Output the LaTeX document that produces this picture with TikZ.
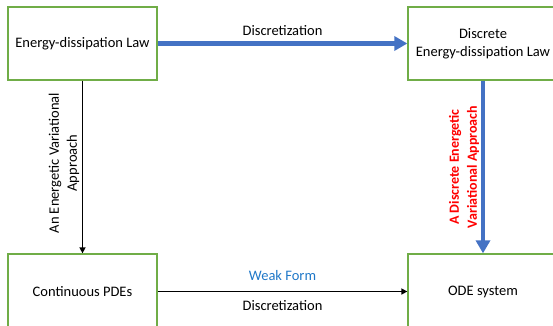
\documentclass[tikz,border=0pt]{standalone}
\usepackage{fontspec}
\setmainfont{Carlito}
\usetikzlibrary{arrows.meta}
\definecolor{boxgreen}{HTML}{70AD47}
\definecolor{arrblue}{HTML}{4472C4}
\definecolor{weakblue}{HTML}{1F78C8}
\begin{document}
\begin{tikzpicture}[x=1pt,y=-1pt,
  font=\fontsize{14.5}{18}\selectfont,
  boxnode/.style={draw=boxgreen,line width=1.3pt,minimum width=149pt,minimum height=73pt,align=center,inner sep=0pt},
  bigarrow/.style={draw=arrblue,line width=4.5pt,-{Triangle[width=14pt,length=13pt]}},
  thinarrow/.style={draw=black,line width=1.5pt,-{Triangle[width=6pt,length=6pt]}},
  sidelabel/.style={rotate=90,align=center}]
\clip (0,0) rectangle (553,325);
\node[boxnode] (b1) at (82.5,43.5) {Energy-dissipation Law};
\node[boxnode,minimum width=150pt] (b2) at (483,43.5) {Discrete\\Energy-dissipation Law};
\node[boxnode,minimum height=75pt] (b3) at (82.5,291.5) {Continuous PDEs};
\node[boxnode,minimum width=150pt,minimum height=75pt] (b4) at (483,291.5) {ODE system};
\draw[bigarrow] (b1.east) -- node[above=2pt] (l1) {Discretization} (b2.west);
\draw[thinarrow] (b1.south) -- (b3.north);
\draw[bigarrow] (b2.south) -- (b4.north);
\draw[thinarrow] (b3.east) -- node[above=7pt,text=weakblue] (l2) {Weak Form} node[below=5pt] (l3) {Discretization} (b4.west);
\node[sidelabel] (l4) at (64,163) {An Energetic Variational\\Approach};
\node[sidelabel,text=red,font=\fontsize{14}{18}\selectfont\bfseries] (l5) at (464,167) {A Discrete Energetic\\Variational Approach};
\end{tikzpicture}
\end{document}
